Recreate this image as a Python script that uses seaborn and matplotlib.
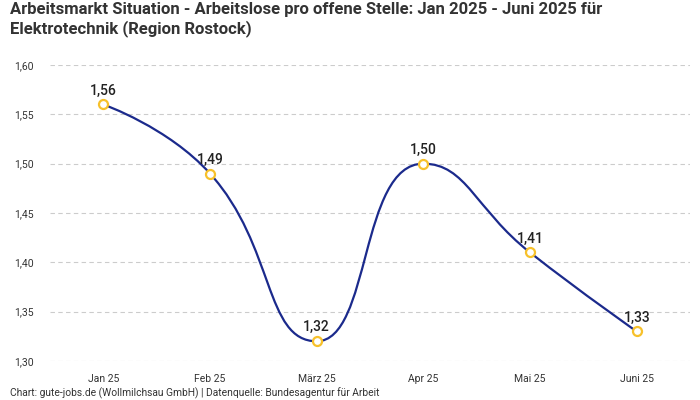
import matplotlib
matplotlib.use("Agg")
import matplotlib.pyplot as plt
from matplotlib.path import Path
from matplotlib.patches import PathPatch
import numpy as np
import pandas as pd
import seaborn as sns

months = ["Jan 25", "Feb 25", "März 25", "Apr 25", "Mai 25", "Juni 25"]
ratio = [1.56, 1.49, 1.32, 1.50, 1.41, 1.33]
y_ticks = [1.30, 1.35, 1.40, 1.45, 1.50, 1.55, 1.60]

title = ("Arbeitsmarkt Situation - Arbeitslose pro offene Stelle: Jan 2025 - Juni 2025 für\n"
         "Elektrotechnik (Region Rostock)")
footer = "Chart: gute-jobs.de (Wollmilchsau GmbH) | Datenquelle: Bundesagentur für Arbeit"

LINE = "#1b2a8c"
DOT = "#f7c12b"
TXT = "#333333"

sns.set_theme(style="white")
plt.rcParams["font.family"] = ["Roboto", "DejaVu Sans"]

df = pd.DataFrame({"month": months, "ratio": ratio})
df["x"] = range(len(df))

fig = plt.figure(figsize=(7, 4), dpi=100)
ax = fig.add_axes([50 / 700, 1 - 361 / 400, 640 / 700, 296 / 400])
ax.set_xlim(-0.5, len(months) - 0.5)
ax.set_ylim(1.30, 1.60)


def smooth_path(ax, xs, ys, smooth=0.5):
    # echarts-like smoothed bezier, computed in pixel space
    pts = ax.transData.transform(np.column_stack([xs, ys]))
    n = len(pts)
    verts = [tuple(pts[0])]
    codes = [Path.MOVETO]
    cp0 = pts[0].copy()
    for i in range(1, n):
        p = pts[i]
        if i < n - 1:
            prev, nxt = pts[i - 1], pts[i + 1]
            v = nxt - prev
            lp = np.hypot(*(p - prev))
            ln = np.hypot(*(nxt - p))
            r = ln / (ln + lp)
            ncp = p + v * smooth * r
            ncp = np.minimum(ncp, np.maximum(nxt, p))
            ncp = np.maximum(ncp, np.minimum(nxt, p))
            vv = ncp - p
            cp1 = p - vv * lp / ln
            cp1 = np.minimum(cp1, np.maximum(prev, p))
            cp1 = np.maximum(cp1, np.minimum(prev, p))
            vv = p - cp1
            ncp = p + vv * ln / lp
        else:
            cp1 = p.copy()
            ncp = p.copy()
        verts += [tuple(cp0), tuple(cp1), tuple(p)]
        codes += [Path.CURVE4] * 3
        cp0 = ncp
    verts = ax.transData.inverted().transform(np.array(verts))
    return Path(verts, codes)


ax.add_patch(PathPatch(smooth_path(ax, df["x"].values, df["ratio"].values),
                       facecolor="none", edgecolor=LINE, lw=1.6, zorder=3))

sns.scatterplot(data=df, x="x", y="ratio", ax=ax, s=42, color="white",
                edgecolor=DOT, linewidth=1.6, zorder=4, legend=False)

for x, y in zip(df["x"], df["ratio"]):
    ax.annotate(f"{y:.2f}".replace(".", ","), (x, y), xytext=(0, 5),
                textcoords="offset points", ha="center", va="bottom",
                fontsize=10, color="#222222", fontweight="medium")

ax.set_xticks(df["x"])
ax.set_xticklabels(months)
ax.set_yticks(y_ticks)
ax.set_yticklabels([f"{t:.2f}".replace(".", ",") for t in y_ticks])
ax.tick_params(axis="both", labelsize=7.5, colors=TXT, length=0)
ax.tick_params(axis="x", pad=9)
ax.tick_params(axis="y", pad=12)
ax.grid(axis="y", color="#cccccc", ls=(0, (4, 3)), lw=0.8)
ax.set_xlabel("")
ax.set_ylabel("")
for s in ax.spines.values():
    s.set_visible(False)

fig.text(10 / 700, 1 - 2 / 400, title, ha="left", va="top", fontsize=12,
         fontweight="bold", color=TXT, linespacing=1.2)
fig.text(10 / 700, 1 - 393 / 400, footer, ha="left", va="center",
         fontsize=7.4, color=TXT)

fig.savefig("out.png", dpi=100)
